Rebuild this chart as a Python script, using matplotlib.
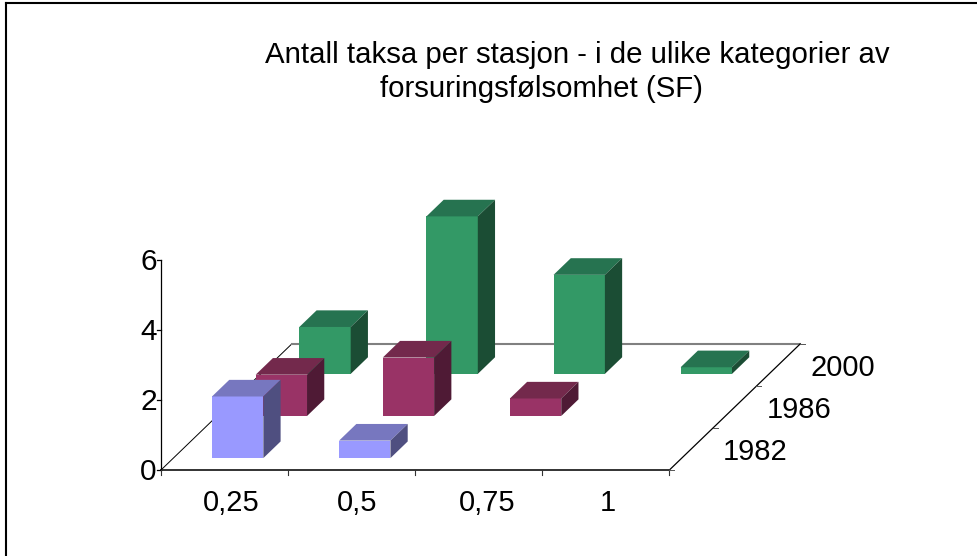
import matplotlib
matplotlib.use("Agg")
import matplotlib.pyplot as plt
from matplotlib.patches import Polygon

categories = ["0,25", "0,5", "0,75", "1"]
series_names = ["1982", "1986", "2000"]
values_1982 = [1.76, 0.5, 0, 0]
values_1986 = [1.18, 1.67, 0.5, 0]
values_2000 = [1.34, 4.5, 2.83, 0.19]
y_ticks = [0, 2, 4, 6]
title_lines = ["Antall taksa per stasjon - i de ulike kategorier av",
               "forsuringsfølsomhet (SF)"]

plt.rcParams["font.family"] = ["Liberation Sans", "DejaVu Sans"]

# oblique projection of (category, series depth, value) to figure pixels
X0, Y0 = 160.7, 470.3
CAT_W = 127.1
DEPTH_DX, DEPTH_DY = 43.67, 42.1
UNIT = 35.0
LABEL_NUDGE = [7, 6, 9, 2]


def proj(c, d, v):
    return (X0 + c * CAT_W + d * DEPTH_DX, Y0 - d * DEPTH_DY - v * UNIT)


fig = plt.figure(figsize=(9.77, 5.56), dpi=100)
ax = fig.add_axes([0, 0, 1, 1])
ax.set_xlim(0, 977)
ax.set_ylim(556, 0)
ax.axis("off")

# frame: only top and left sides are visible
ax.plot([6, 6], [556, 3], color="black", lw=1.5, solid_capstyle="projecting")
ax.plot([6, 977], [3, 3], color="black", lw=1.5, solid_capstyle="projecting")

ncat, nser = len(categories), len(series_names)

# floor
ax.plot(*zip(proj(0, 0, 0), proj(0, nser, 0)), color="black", lw=0.7, zorder=1)
ax.plot(*zip(proj(0, nser, 0), proj(ncat, nser, 0)), color="#808080", lw=1.5, zorder=1)
ax.plot(*zip(proj(ncat, 0, 0), proj(ncat, nser, 0)), color="black", lw=0.9, zorder=1)
ax.plot(*zip(proj(0, 0, 0), proj(ncat, 0, 0)), color="#333333", lw=1.4, zorder=6)

# value axis
ax.plot(*zip(proj(0, 0, 0), proj(0, 0, max(y_ticks))), color="black", lw=0.9, zorder=6)
for t in y_ticks:
    x, y = proj(0, 0, t)
    ax.plot([x - 4, x], [y, y], color="black", lw=0.9, zorder=6)
    ax.text(x - 4, y + 2, str(t), ha="right", va="center", fontsize=21.5, color="black")

# category ticks and labels
for i in range(ncat + 1):
    x, y = proj(i, 0, 0)
    ax.plot([x, x], [y, y + 5], color="#333333", lw=0.8, zorder=6)
for i, name in enumerate(categories):
    x, y = proj(i + 0.5, 0, 0)
    ax.text(x + LABEL_NUDGE[i], y + 32.5, name, ha="center", va="center", fontsize=20.9, color="black")

# series ticks and labels
for s in range(nser + 1):
    x, y = proj(ncat, s, 0)
    ax.plot([x, x + 5], [y, y], color="#555555", lw=0.7, zorder=6)
for s, name in enumerate(series_names):
    x, y = proj(ncat, s + 0.5, 0)
    ax.text(x + 32, y + 2.5, name, ha="left", va="center", fontsize=21, color="black")

styles = {
    "1982": ("#9999FF", "#7777BF", "#4F4F80"),
    "1986": ("#993366", "#73294C", "#4F1A35"),
    "2000": ("#339966", "#267350", "#1B4D34"),
}
all_values = {"1982": values_1982, "1986": values_1986, "2000": values_2000}

GAP_C, WID_C = 0.304, 0.404
GAP_D, WID_D = 0.29, 0.395

for s in reversed(range(nser)):
    name = series_names[s]
    front, top, side = styles[name]
    for c, v in enumerate(all_values[name]):
        if v <= 0:
            continue
        c0, c1 = c + GAP_C, c + GAP_C + WID_C
        d0, d1 = s + GAP_D, s + GAP_D + WID_D
        z = 3 + (nser - s) * 0.1
        ax.add_patch(Polygon([proj(c0, d0, 0), proj(c1, d0, 0), proj(c1, d0, v), proj(c0, d0, v)],
                             facecolor=front, edgecolor="none", zorder=z))
        ax.add_patch(Polygon([proj(c0, d0, v), proj(c1, d0, v), proj(c1, d1, v), proj(c0, d1, v)],
                             facecolor=top, edgecolor="none", zorder=z))
        ax.add_patch(Polygon([proj(c1, d0, 0), proj(c1, d1, 0), proj(c1, d1, v), proj(c1, d0, v)],
                             facecolor=side, edgecolor="none", zorder=z))

# title
ax.text(265, 55, title_lines[0], ha="left", va="center", fontsize=21.2, color="black")
ax.text(380, 89, title_lines[1], ha="left", va="center", fontsize=21.2, color="black")

fig.savefig("out.png", dpi=100, facecolor="white")
